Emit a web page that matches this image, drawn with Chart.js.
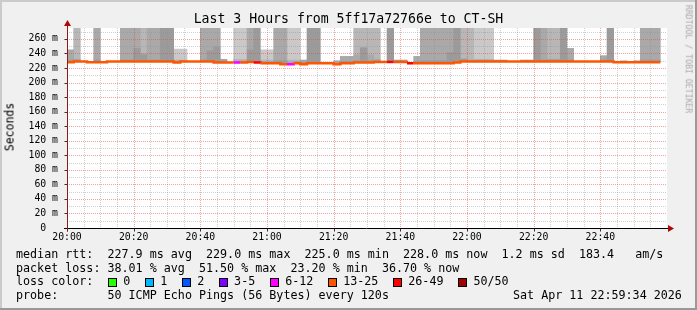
<!DOCTYPE html>
<html><head><meta charset="utf-8">
<script src="https://cdn.jsdelivr.net/npm/chart.js@4.4.1/dist/chart.umd.min.js"></script>
<style>
html,body{margin:0;padding:0;background:#fff;}
#frame{position:relative;width:697px;height:310px;background:#f0f0f0;overflow:hidden;font-family:"DejaVu Sans Mono",monospace;color:#000;}
#c{position:absolute;left:0;top:0;}
.b{position:absolute;}
.t{position:absolute;white-space:pre;}
.row{font-size:11.7px;line-height:13.6px;left:16px;}
.box{position:absolute;width:9px;height:9px;box-sizing:border-box;border:1px solid #000;}
</style></head>
<body>
<div id="frame">
  <div class="b" style="left:0;top:0;width:697px;height:2px;background:#cbcbcb"></div>
  <div class="b" style="left:0;top:0;width:2px;height:310px;background:#cbcbcb"></div>
  <div class="b" style="left:0;top:308px;width:697px;height:2px;background:#999"></div>
  <div class="b" style="left:695px;top:0;width:2px;height:310px;background:#999"></div>
  <canvas id="c" width="697" height="310"></canvas>
  <div class="t" id="title" style="left:0;width:697px;text-align:center;top:11px;font-size:13.2px;line-height:15.4px;">Last 3 Hours from 5ff17a72766e to CT-SH</div>
  <div class="t" style="left:10.3px;top:127px;font-size:11.5px;line-height:13px;transform:translate(-50%,-50%) rotate(-90deg);">Seconds</div>
  <div class="t" style="left:688px;top:59px;font-size:8.2px;line-height:9.5px;color:#aaa;transform:translate(-50%,-50%) rotate(90deg);">RRDTOOL / TOBI OETIKER</div>
  <div class="t row" style="top:248.2px">median rtt:  227.9 ms avg  229.0 ms max  225.0 ms min  228.0 ms now  1.2 ms sd  183.4   am/s</div>
  <div class="t row" style="top:261.7px">packet loss: 38.01 % avg  51.50 % max  23.20 % min  36.70 % now</div>
  <div class="t row" style="top:275.2px">loss color:</div>
  <div id="lossLegend"></div>
  <div class="t row" style="top:288.7px">probe:       50 ICMP Echo Pings (56 Bytes) every 120s</div>
  <div class="t row" style="top:288.7px;left:513px">Sat Apr 11 22:59:34 2026</div>
</div>
<script>
// ---- data ----
const STEP_MIN = 2; // one sample every 120 s, starting 20:00
const medianRtt = [
 227.9, 229.0, 229.0, 227.9, 227.9, 227.9, 229.0, 229.0, 229.0, 229.0,
 229.0, 229.0, 229.0, 229.0, 229.0, 229.0, 227.5, 229.0, 229.0, 229.0,
 229.0, 229.0, 227.5, 227.5, 227.5, 227.5, 227.5, 228.2, 227.5, 226.5,
 226.5, 226.5, 225.0, 225.0, 226.5, 225.0, 226.5, 226.5, 226.5, 226.5,
 225.0, 226.5, 226.5, 227.4, 227.4, 227.4, 228.3, 228.3, 228.3, 228.3,
 228.3, 226.5, 226.5, 226.5, 226.5, 226.5, 226.5, 226.5, 227.7, 229.0,
 229.0, 229.0, 229.0, 229.0, 229.0, 229.0, 229.0, 229.0, 229.0, 229.0,
 229.0, 229.0, 229.0, 229.0, 229.0, 229.0, 229.0, 229.0, 229.0, 229.0,
 229.0, 229.0, 228.0, 228.0, 228.0, 228.0, 228.0, 228.0, 228.0];
const lossPct = [
 36, 40, 42, 38, 44, 40, 34, 36, 42, 44,
 40, 42, 38, 40, 46, 44, 34, 36, 40, 38,
 44, 42, 40, 30, 34, 23.2, 32, 40, 51.5, 36,
 36, 42, 40, 23.2, 34, 30, 44, 42, 36, 34,
 30, 32, 32, 40, 44, 40, 36, 34, 51.5, 30,
 30, 51.5, 32, 40, 40, 40, 40, 42, 46, 40,
 40, 38, 38, 38, 32, 32, 34, 34, 32, 32,
 44, 42, 40, 40, 46, 40, 34, 34, 34, 34,
 34, 46, 34, 32, 34, 32, 40, 40, 36.7];
// smoke: tops of the four bands (innermost first), ms; null = no smoke
const smokeBand1 = [
 231, 231, null, null, 231, null, null, null, 231, 231,
 247, 238, 231, 231, 275, 275, 229, 229, null, null,
 231, 244, 249, 230, null, 229, 229, 245, 275, 228,
 228, 230, 230, 227, 228, 228, 275, 275, null, null,
 227, 229, 229, 230, 248, 230, 230, null, 275, 230,
 230, null, 229, 230, 230, 230, 230, 241, 275, 232,
 230, 230, 230, 230, 230, 230, null, null, 230, 230,
 275, 231, 231, 231, 275, 231, null, null, null, null,
 231, 275, null, 229, null, 229, 231, 231, 231];
const smokeBand2 = [
 245, 232, null, null, 275, null, null, null, 275, 275,
 275, 240, 275, 275, 275, 275, 230, 230, null, null,
 275, 275, 275, 232, null, 230, 230, 275, 275, 229,
 229, 275, 275, 228, 229, 231, 275, 275, null, null,
 230, 236, 236, 238, 248, 238, 232, null, 275, 231,
 231, null, 236, 275, 275, 275, 275, 275, 275, 233,
 231, 231, 231, 231, 231, 231, null, null, 231, 231,
 275, 275, 232, 232, 275, 247, null, null, null, null,
 237, 275, null, 230, null, 230, 275, 275, 275];
const smokeBand3 = [
 245, 275, null, null, 275, null, null, null, 275, 275,
 275, 275, 275, 275, 275, 275, 231, 231, null, null,
 275, 275, 275, 232, null, 232, 232, 275, 275, 231,
 231, 275, 275, 231, 231, 231, 275, 275, null, null,
 230, 236, 236, 275, 275, 275, 275, null, 275, 231,
 231, null, 236, 275, 275, 275, 275, 275, 275, 275,
 275, 232, 232, 232, 231, 231, null, null, 231, 231,
 275, 275, 275, 275, 275, 247, null, null, null, null,
 237, 275, null, 230, null, 230, 275, 275, 275];
const smokeBand4 = [
 245, 275, null, null, 275, null, null, null, 275, 275,
 275, 275, 275, 275, 275, 275, 246, 246, null, null,
 275, 275, 275, 232, null, 275, 275, 275, 275, 245,
 245, 275, 275, 275, 275, 231, 275, 275, null, null,
 230, 236, 236, 275, 275, 275, 275, null, 275, 231,
 231, null, 236, 275, 275, 275, 275, 275, 275, 275,
 275, 275, 275, 275, 231, 231, null, null, 231, 231,
 275, 275, 275, 275, 275, 247, null, null, null, null,
 237, 275, null, 230, null, 230, 275, 275, 275];
const xTickLabels = ['20:00','20:20','20:40','21:00','21:20','21:40','22:00','22:20','22:40'];
const yTickLabels = ['0  ','20 m','40 m','60 m','80 m','100 m','120 m','140 m','160 m','180 m','200 m','220 m','240 m','260 m'];
const lossLabels = ['0','1','2','3-5','6-12','13-25','26-49','50/50'];
const lossMaxCount = [0, 1, 2, 5, 12, 25, 49, 50];
const lossColors = ['#26ff00','#00b8ff','#0059ff','#7e00ff','#ff00ff','#ff5500','#ff0000','#a10000'];
const PINGS = 50;

// ---- styles ----
const smokeColors = ['#9b9b9b','#a9a9a9','#b7b7b7','#c9c9c9'];
const MONO = 'DejaVu Sans Mono';

function lossColor(p){
  const n = Math.round(p * PINGS / 100);
  for (let k = 0; k < lossMaxCount.length; k++) if (n <= lossMaxCount[k]) return lossColors[k];
  return lossColors[lossColors.length - 1];
}

// legend boxes
(function(){
  const host = document.getElementById('lossLegend');
  let x = 108.3;
  lossLabels.forEach((lab, k) => {
    const b = document.createElement('div');
    b.className = 'box'; b.style.left = x + 'px'; b.style.top = '277.5px'; b.style.background = lossColors[k];
    host.appendChild(b);
    const t = document.createElement('div');
    t.className = 't row'; t.style.left = (x + 15) + 'px'; t.style.top = '275.2px'; t.textContent = lab;
    host.appendChild(t);
    x += 15 + lab.length * 7.04 + 14.9;
  });
})();

const bands = [medianRtt, smokeBand1, smokeBand2, smokeBand3, smokeBand4];
function layer(k){
  const lo = bands[k], hi = bands[k + 1], out = [];
  medianRtt.forEach((_, i) => {
    const a = lo[i], b = hi[i];
    if (a != null && b != null && b > a) out.push({x: i * STEP_MIN + STEP_MIN / 2, y: [a, b]});
  });
  return out;
}
const medianPts = medianRtt.map((v, i) => ({x: i * STEP_MIN, y: v}));
medianPts.push({x: medianRtt.length * STEP_MIN, y: medianRtt[medianRtt.length - 1]});

const barCommon = {type: 'bar', grouped: false, barPercentage: 1, categoryPercentage: 1, borderWidth: 0};
const datasets = [
  {type: 'line', data: medianPts, stepped: true, borderWidth: 2.5, pointRadius: 0, fill: false,
   borderColor: '#ff5500', borderCapStyle: 'butt',
   segment: {borderColor: ctx => lossColor(lossPct[Math.min(ctx.p0DataIndex, lossPct.length - 1)])}},
  Object.assign({data: layer(0), backgroundColor: smokeColors[0]}, barCommon),
  Object.assign({data: layer(1), backgroundColor: smokeColors[1]}, barCommon),
  Object.assign({data: layer(2), backgroundColor: smokeColors[2]}, barCommon),
  Object.assign({data: layer(3), backgroundColor: smokeColors[3]}, barCommon)
];

const rrd = {
  id: 'rrd',
  beforeDraw(chart){
    const {ctx, chartArea: a} = chart;
    ctx.save(); ctx.fillStyle = '#fff';
    ctx.fillRect(a.left, a.top, a.right - a.left, a.bottom - a.top);
    ctx.restore();
  },
  afterDatasetDraw(chart, args){
    if (args.index !== 1) return;
    const {ctx, chartArea: a, scales: {x, y}} = chart;
    ctx.save(); ctx.lineWidth = 1; ctx.setLineDash([1, 1]);
    const pass = major => {
      ctx.strokeStyle = major ? 'rgba(232,70,70,0.5)' : 'rgba(143,143,143,0.42)';
      for (let m = 5; m < 180; m += 5) {
        if ((m % 20 === 0) !== major) continue;
        const px = Math.round(x.getPixelForValue(m)) + 0.5;
        ctx.beginPath(); ctx.moveTo(px, a.top); ctx.lineTo(px, a.bottom); ctx.stroke();
      }
      for (let v = 10; v < 275; v += 10) {
        if ((v % 20 === 0) !== major) continue;
        const py = Math.round(y.getPixelForValue(v)) + 0.5;
        ctx.beginPath(); ctx.moveTo(a.left, py); ctx.lineTo(a.right, py); ctx.stroke();
      }
    };
    pass(false); pass(true);
    ctx.restore();
  },
  afterDraw(chart){
    const {ctx, chartArea: a, scales: {x, y}} = chart;
    ctx.save();
    const y0 = Math.round(y.getPixelForValue(0)) + 0.5;
    const x0 = Math.round(x.getPixelForValue(0)) + 0.5;
    // ticks
    ctx.strokeStyle = '#333'; ctx.lineWidth = 1;
    for (let v = 20; v < 275; v += 20) {
      const py = Math.round(y.getPixelForValue(v)) + 0.5;
      ctx.beginPath(); ctx.moveTo(x0 - 3, py); ctx.lineTo(x0, py); ctx.stroke();
    }
    for (let m = 0; m < 180; m += 20) {
      const px = Math.round(x.getPixelForValue(m)) + 0.5;
      ctx.beginPath(); ctx.moveTo(px, y0); ctx.lineTo(px, y0 + 3); ctx.stroke();
    }
    // axes
    ctx.strokeStyle = '#000';
    ctx.beginPath(); ctx.moveTo(a.left - 3, y0); ctx.lineTo(a.right + 2, y0); ctx.stroke();
    ctx.strokeStyle = '#8e1a1a';
    ctx.beginPath(); ctx.moveTo(x0, y0 + 3); ctx.lineTo(x0, a.top - 4); ctx.stroke();
    // arrows
    ctx.fillStyle = '#ad0707';
    ctx.beginPath(); ctx.moveTo(x0, a.top - 8); ctx.lineTo(x0 - 3.5, a.top - 2); ctx.lineTo(x0 + 3.5, a.top - 2); ctx.closePath(); ctx.fill();
    ctx.beginPath(); ctx.moveTo(a.right + 7, y0); ctx.lineTo(a.right + 1, y0 - 3.5); ctx.lineTo(a.right + 1, y0 + 3.5); ctx.closePath(); ctx.fill();
    ctx.restore();
  }
};

new Chart(document.getElementById('c'), {
  type: 'bar',
  data: {datasets},
  options: {
    responsive: false, animation: false, devicePixelRatio: 1,
    layout: {padding: {left: 0, top: 28, right: 30, bottom: 0}},
    plugins: {legend: {display: false}, tooltip: {enabled: false}, title: {display: false}},
    scales: {
      x: {
        type: 'linear', min: 0, max: 180, offset: false,
        grid: {display: false, drawTicks: false}, border: {display: false},
        afterFit(s){ s.height = 82; },
        afterBuildTicks(s){ s.ticks = xTickLabels.map((_, k) => ({value: k * 20})); },
        ticks: {autoSkip: false, maxRotation: 0, minRotation: 0, padding: 4, color: '#000',
          font: {family: MONO, size: 9.8},
          callback: v => xTickLabels[Math.round(v / 20)] ?? ''}
      },
      y: {
        min: 0, max: 275,
        grid: {display: false, drawTicks: false}, border: {display: false},
        afterFit(s){ s.width = 67; },
        afterBuildTicks(s){ s.ticks = yTickLabels.map((_, k) => ({value: k * 20})); },
        ticks: {autoSkip: false, padding: 9, color: '#000', font: {family: MONO, size: 9.8},
          callback: v => yTickLabels[Math.round(v / 20)] ?? ''}
      }
    }
  },
  plugins: [rrd]
});
</script>
</body></html>
